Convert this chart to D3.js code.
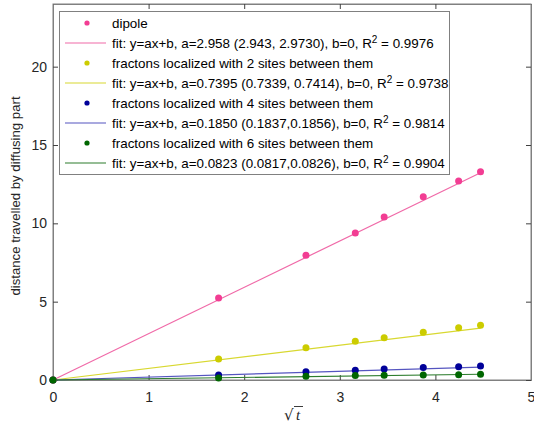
<!DOCTYPE html>
<html><head><meta charset="utf-8">
<script src="https://cdn.jsdelivr.net/npm/d3@7"></script>
<style>body{margin:0;background:#fff}</style>
</head><body>
<svg id="c" width="534" height="425"></svg>
<script>
const xVals = [0, 1.732, 2.646, 3.162, 3.464, 3.873, 4.243, 4.472];
const dipole = [0, 5.23, 7.97, 9.39, 10.4, 11.7, 12.7, 13.3];
const sites2 = [0, 1.34, 2.06, 2.47, 2.70, 3.04, 3.34, 3.49];
const sites4 = [0, 0.32, 0.53, 0.62, 0.70, 0.79, 0.85, 0.89];
const sites6 = [0, 0.13, 0.24, 0.28, 0.30, 0.32, 0.34, 0.37];
const slopes = [2.958, 0.7395, 0.1850, 0.0823];
const xTicks = [0, 1, 2, 3, 4, 5];
const yTicks = [0, 5, 10, 15, 20];
const seriesNames = ["dipole", "fractons localized with 2 sites between them", "fractons localized with 4 sites between them", "fractons localized with 6 sites between them"];
const fitNames = [
  ["fit: y=ax+b, a=2.958 (2.943, 2.9730), b=0, R", "2", " = 0.9976"],
  ["fit: y=ax+b, a=0.7395 (0.7339, 0.7414), b=0, R", "2", " = 0.9738"],
  ["fit: y=ax+b, a=0.1850 (0.1837,0.1856), b=0, R", "2", " = 0.9814"],
  ["fit: y=ax+b, a=0.0823 (0.0817,0.0826), b=0, R", "2", " = 0.9904"]
];
const dotColors = ["#f23d93", "#cccc00", "#000099", "#006600"];
const lineColors = ["#f06aa8", "#d8d830", "#5555c0", "#2d7d2d"];

const svg = d3.select("#c");
const m = {l: 53, r: 531, t: 4, b: 380};
const x = d3.scaleLinear().domain([0, 5]).range([m.l, m.r]);
const y = d3.scaleLinear().domain([0, 24]).range([m.b, m.t]);
const font = "'Liberation Sans', Arial, sans-serif";
const axisCol = "#262626";

svg.append("rect").attr("x", m.l).attr("y", m.t).attr("width", m.r - m.l).attr("height", m.b - m.t)
  .attr("fill", "#fff").attr("stroke", "#808080").attr("stroke-width", 1);

const g = svg.append("g");
const xa = g.append("g").attr("transform", `translate(0,${m.b})`)
  .call(d3.axisBottom(x).tickValues(xTicks).tickSize(-5).tickPadding(12).tickFormat(d3.format("d")));
const xt = g.append("g").attr("transform", `translate(0,${m.t})`)
  .call(d3.axisTop(x).tickValues(xTicks).tickSize(-5).tickFormat(""));
const ya = g.append("g").attr("transform", `translate(${m.l},0)`)
  .call(d3.axisLeft(y).tickValues(yTicks).tickSize(-5).tickPadding(6).tickFormat(d3.format("d")));
const yr = g.append("g").attr("transform", `translate(${m.r},0)`)
  .call(d3.axisRight(y).tickValues(yTicks).tickSize(-5).tickFormat(""));
[xa, xt, ya, yr].forEach(a => {
  a.select(".domain").attr("stroke", "#808080");
  a.selectAll(".tick line").attr("stroke", "#404040");
  a.selectAll("text").attr("font-family", font).attr("font-size", 14).attr("fill", axisCol);
});

const series = [dipole, sites2, sites4, sites6];
series.forEach((s, i) => {
  const xmax = d3.max(xVals);
  svg.append("line").attr("x1", x(0)).attr("y1", y(0)).attr("x2", x(xmax)).attr("y2", y(slopes[i] * xmax))
    .attr("stroke", lineColors[i]).attr("stroke-width", 1.2);
});
series.forEach((s, i) => {
  svg.append("g").selectAll("circle").data(xVals.map((xv, j) => [xv, s[j]])).join("circle")
    .attr("cx", d => x(d[0])).attr("cy", d => y(d[1])).attr("r", 3.5).attr("fill", dotColors[i]);
});

const lg = svg.append("g");
lg.append("rect").attr("x", 59.5).attr("y", 11.5).attr("width", 390).attr("height", 163)
  .attr("fill", "#fff").attr("stroke", "#808080");
series.forEach((s, i) => {
  const y0 = 23 + i * 40;
  lg.append("circle").attr("cx", 87).attr("cy", y0).attr("r", 2.6).attr("fill", dotColors[i]);
  lg.append("text").attr("x", 112).attr("y", y0 + 4.5).attr("font-family", font).attr("font-size", 13.4)
    .attr("fill", "#000").text(seriesNames[i]);
  const y1 = y0 + 20;
  lg.append("line").attr("x1", 65).attr("x2", 106).attr("y1", y1).attr("y2", y1)
    .attr("stroke", lineColors[i]).attr("stroke-width", 1.2);
  const t = lg.append("text").attr("x", 112).attr("y", y1 + 4.5).attr("font-family", font).attr("font-size", 13.4).attr("fill", "#000");
  t.append("tspan").text(fitNames[i][0]);
  t.append("tspan").attr("dy", -5).attr("font-size", 10).text(fitNames[i][1]);
  t.append("tspan").attr("dy", 5).text(fitNames[i][2]);
});

svg.append("text").attr("transform", "translate(19.5,196) rotate(-90)").attr("text-anchor", "middle")
  .attr("font-family", font).attr("font-size", 13.2).attr("fill", axisCol).text("distance travelled by diffusing part");
const xl = svg.append("g").attr("transform", "translate(284,420)");
xl.append("text").attr("x", 0).attr("y", 0).attr("font-family", "'DejaVu Serif', serif").attr("font-size", 15).attr("fill", axisCol).text("√");
xl.append("line").attr("x1", 10).attr("x2", 19).attr("y1", -13.5).attr("y2", -13.5).attr("stroke", axisCol).attr("stroke-width", 0.9);
xl.append("text").attr("x", 12).attr("y", 0).attr("font-family", "'Liberation Serif', serif").attr("font-style", "italic").attr("font-size", 15).attr("fill", axisCol).text("t");
</script>
</body></html>
